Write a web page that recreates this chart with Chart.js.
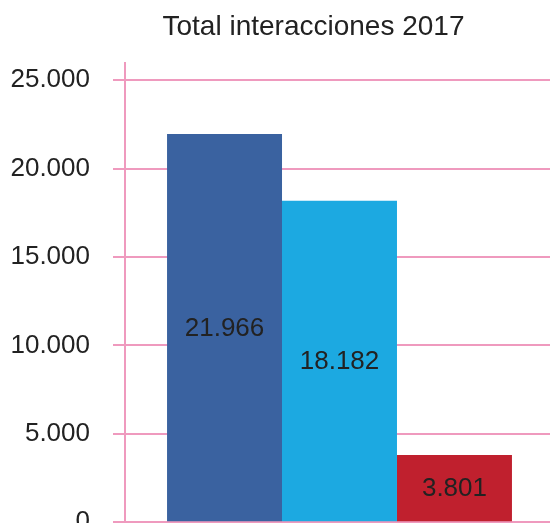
<!DOCTYPE html>
<html>
<head>
<meta charset="utf-8">
<script src="https://cdn.jsdelivr.net/npm/chart.js@4/dist/chart.umd.min.js"></script>
<style>
  html, body { margin: 0; padding: 0; background: #ffffff; overflow: hidden; width: 550px; height: 523px; }
  #c { display: block; position: absolute; left: 0; top: 0; }
</style>
</head>
<body>
<canvas id="c" width="560" height="560"></canvas>
<script>
// ---- data ----
const categories = ['2017'];
const seriesLabels = ['Serie 1', 'Serie 2', 'Serie 3'];
const seriesValues = [21966, 18182, 3801];
const seriesColors = ['#3A62A0', '#1CA9E1', '#C0202E'];
const tickValues = [0, 5000, 10000, 15000, 20000, 25000];
const titleText = 'Total interacciones 2017';

const FONT = "'Liberation Sans', Arial, Helvetica, sans-serif";
const PINK = 'rgb(239,154,190)';
const fmt = v => Math.round(v).toLocaleString('de-DE');

const valueLabels = {
  id: 'valueLabels',
  afterDatasetsDraw(chart) {
    const ctx = chart.ctx;
    ctx.save();
    ctx.font = '26px ' + FONT;
    ctx.fillStyle = '#222222';
    ctx.textAlign = 'center';
    ctx.textBaseline = 'middle';
    chart.data.datasets.forEach((ds, i) => {
      const meta = chart.getDatasetMeta(i);
      meta.data.forEach((bar, j) => {
        const p = bar.getProps(['x', 'y', 'base'], true);
        ctx.fillText(fmt(ds.data[j]), p.x, (p.y + p.base) / 2 + 1);
      });
    });
    ctx.restore();
  }
};

// shift the title box so it is centred like the reference
const titleShift = {
  id: 'titleShift',
  afterLayout(chart) {
    if (chart.titleBlock) chart.titleBlock.left = 73;
  }
};

new Chart(document.getElementById('c'), {
  type: 'bar',
  data: {
    labels: categories,
    datasets: seriesValues.map((v, i) => ({
      label: seriesLabels[i],
      data: [v],
      backgroundColor: seriesColors[i],
      borderWidth: 0,
      barPercentage: 1.0,
      categoryPercentage: 0.804
    }))
  },
  options: {
    responsive: false,
    devicePixelRatio: 1,
    animation: false,
    layout: { padding: { left: 0, right: 6, top: 0, bottom: 37.7 } },
    plugins: {
      legend: { display: false },
      tooltip: { enabled: false },
      title: {
        display: true,
        text: titleText,
        color: '#222222',
        font: { family: FONT, size: 28, weight: 'normal', lineHeight: 1.2 },
        padding: { top: 10, bottom: 19 }
      }
    },
    scales: {
      x: { display: false },
      y: {
        min: 0,
        max: 26000,
        afterBuildTicks(scale) {
          scale.ticks = tickValues.map(v => ({ value: v }));
        },
        afterFit(scale) {
          scale.width = 125;
          scale.paddingTop = 0;
          scale.paddingBottom = 0;
        },
        grid: {
          color: PINK,
          lineWidth: 2,
          drawTicks: true,
          tickLength: 12,
          tickColor: PINK,
          tickWidth: 2
        },
        border: { display: true, color: PINK, width: 2 },
        ticks: {
          color: '#222222',
          padding: 23,
          font: { family: FONT, size: 26 },
          callback: v => fmt(v)
        }
      }
    }
  },
  plugins: [valueLabels, titleShift]
});
</script>
</body>
</html>
